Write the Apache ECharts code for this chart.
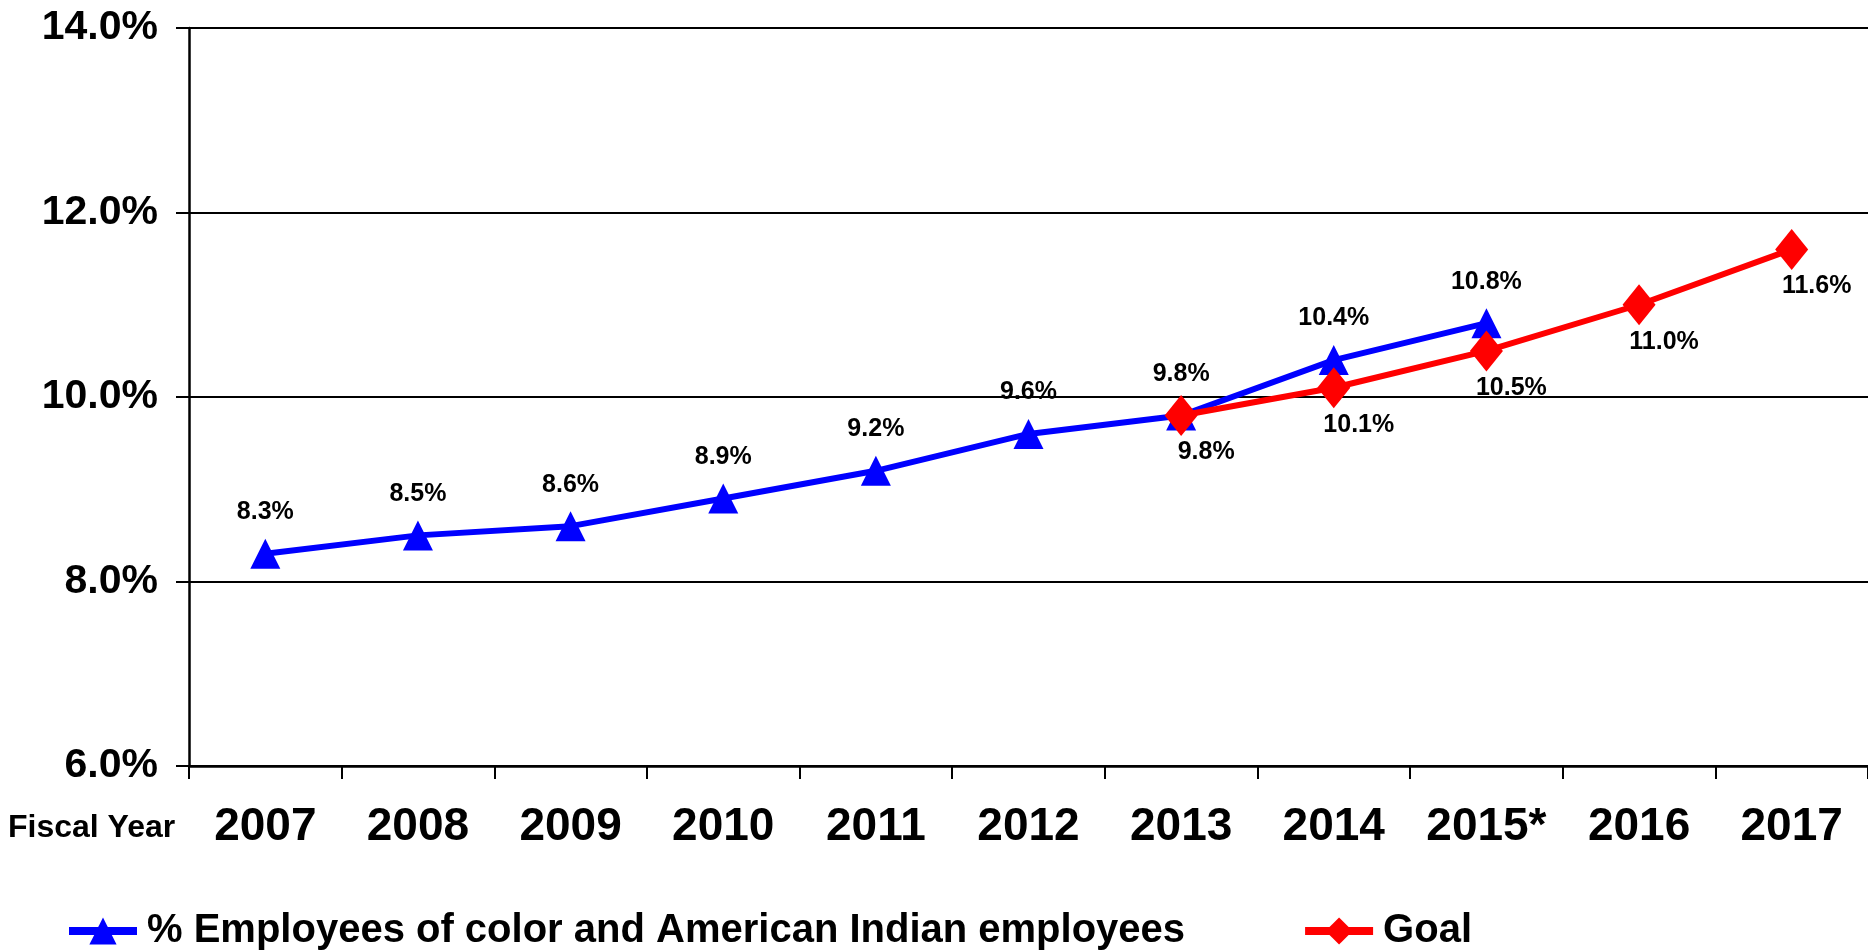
<!DOCTYPE html>
<html>
<head>
<meta charset="utf-8">
<script src="https://cdn.jsdelivr.net/npm/echarts@6/dist/echarts.min.js"></script>
<style>
  html, body { margin: 0; padding: 0; background: #fff; }
  #chart { width: 1868px; height: 952px; }
</style>
</head>
<body>
<div id="chart"></div>
<script>
// Fiscal years on the category axis
const years = ['2007', '2008', '2009', '2010', '2011', '2012', '2013', '2014', '2015*', '2016', '2017'];
// Actual share of employees of color and American Indian employees (%)
const employeeShare = [8.3, 8.5, 8.6, 8.9, 9.2, 9.6, 9.8, 10.4, 10.8, null, null];
// Goal trajectory (%)
const goalShare = [null, null, null, null, null, null, 9.8, 10.1, 10.5, 11.0, 11.6];
// Value axis range
const yMin = 6, yMax = 14, yStep = 2;

const FONT = '"Liberation Sans", Arial, sans-serif';
const pct = v => Number(v).toFixed(1) + '%';

const chart = echarts.init(document.getElementById('chart'), null, { renderer: 'canvas' });
chart.setOption({
  animation: false,
  backgroundColor: '#ffffff',
  grid: { left: 189, right: 0, top: 28, bottom: 186, containLabel: false },
  xAxis: {
    type: 'category',
    data: years,
    boundaryGap: true,
    axisLine: { show: true, lineStyle: { color: '#000', width: 2.5 } },
    axisTick: { show: true, length: 13, interval: 0, lineStyle: { color: '#000', width: 2 } },
    axisLabel: { interval: 0, margin: 38, color: '#000', fontFamily: FONT, fontWeight: 'bold', fontSize: 46 },
    splitLine: { show: false }
  },
  yAxis: {
    type: 'value',
    min: yMin, max: yMax, interval: yStep,
    axisLine: { show: true, lineStyle: { color: '#000', width: 2.5 } },
    axisTick: { show: true, length: 13, lineStyle: { color: '#000', width: 2 } },
    axisLabel: { margin: 31, color: '#000', fontFamily: FONT, fontWeight: 'bold', fontSize: 41, formatter: pct },
    splitLine: { show: true, lineStyle: { color: '#000', width: 2 } }
  },
  legend: {
    left: 60, top: 906,
    itemWidth: 68, itemHeight: 34, itemGap: 116,
    lineStyle: { width: 8 },
    textStyle: { color: '#000', fontFamily: FONT, fontWeight: 'bold', fontSize: 40, padding: [0, 0, 0, 5] },
    data: ['% Employees of color and American Indian employees', 'Goal']
  },
  graphic: [{
    type: 'text', left: 8, top: 812,
    style: { text: 'Fiscal Year', fill: '#000', font: 'bold 32px ' + FONT }
  }],
  series: [
    {
      name: '% Employees of color and American Indian employees',
      type: 'line',
      data: employeeShare,
      color: '#0000ff',
      symbol: 'triangle', symbolSize: 30,
      lineStyle: { color: '#0000ff', width: 6 },
      itemStyle: { color: '#0000ff' },
      label: { show: true, position: 'top', distance: 14, color: '#000', fontFamily: FONT, fontWeight: 'bold', fontSize: 25, formatter: p => pct(p.value) },
      z: 2
    },
    {
      name: 'Goal',
      type: 'line',
      data: goalShare,
      color: '#ff0000',
      symbol: 'diamond', symbolSize: [33, 41],
      lineStyle: { color: '#ff0000', width: 6 },
      itemStyle: { color: '#ff0000' },
      label: { show: true, position: 'bottom', distance: 4, offset: [25, 0], color: '#000', fontFamily: FONT, fontWeight: 'bold', fontSize: 25, formatter: p => pct(p.value) },
      z: 3
    }
  ]
});
</script>
</body>
</html>
